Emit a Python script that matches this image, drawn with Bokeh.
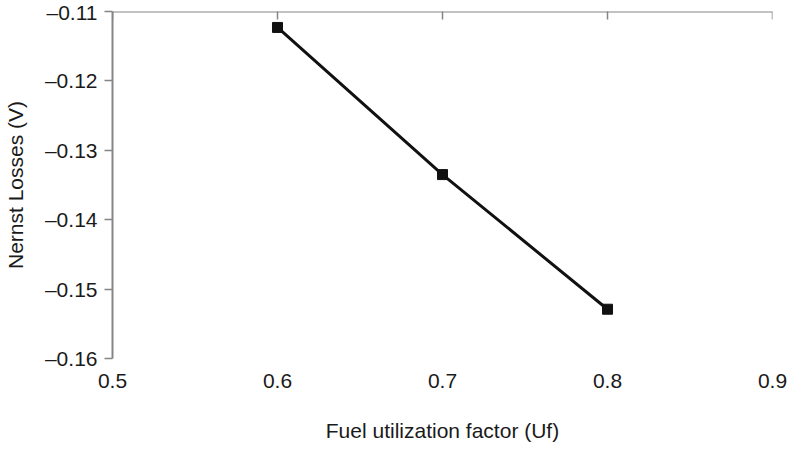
import math
from bokeh.plotting import figure
from bokeh.models import LinearAxis, FixedTicker, CustomJSTickFormatter, Range1d, Span
from bokeh.embed import file_html
from bokeh.resources import INLINE

# Data
uf = [0.6, 0.7, 0.8]
nernst_losses = [-0.1123, -0.1335, -0.1529]

x_ticks = [0.5, 0.6, 0.7, 0.8, 0.9]
y_ticks = [-0.16, -0.15, -0.14, -0.13, -0.12, -0.11]
x_title = "Fuel utilization factor (Uf)"
y_title = "Nernst Losses (V)"

X_MIN, X_MAX = 0.5, 0.9
Y_MIN, Y_MAX = -0.16, -0.11

FONT = "Liberation Sans"
FS = "21px"
TXT = "#1a1a1a"
AX = "#858585"

p = figure(width=787, height=449, output_backend="svg", toolbar_location=None,
           x_range=Range1d(X_MIN, X_MAX), y_range=Range1d(Y_MIN, Y_MAX),
           x_axis_location=None, y_axis_location=None,
           min_border_left=112, min_border_right=15, min_border_top=11, min_border_bottom=91)
p.grid.visible = False
p.outline_line_color = None
p.background_fill_color = "white"
p.border_fill_color = "white"

# Left axis
ya = LinearAxis(ticker=FixedTicker(ticks=y_ticks),
                formatter=CustomJSTickFormatter(code="return (tick < 0 ? '\\u2013' : '') + Math.abs(tick).toFixed(2);"))
ya.axis_label = y_title
ya.axis_label_text_font = FONT
ya.axis_label_text_font_size = FS
ya.axis_label_text_font_style = "normal"
ya.axis_label_text_color = TXT
ya.axis_label_standoff = 15
ya.major_label_text_font = FONT
ya.major_label_text_font_size = FS
ya.major_label_text_color = TXT
ya.major_label_standoff = 7
ya.axis_line_color = AX
ya.axis_line_width = 2
ya.major_tick_line_color = AX
ya.major_tick_line_width = 1.5
ya.major_tick_in = 0
ya.major_tick_out = 8
ya.minor_tick_line_color = None
p.add_layout(ya, "left")

# Bottom axis: labels only
ba = LinearAxis(ticker=FixedTicker(ticks=x_ticks),
                formatter=CustomJSTickFormatter(code="return tick.toFixed(1);"))
ba.axis_label = x_title
ba.axis_label_text_font = FONT
ba.axis_label_text_font_size = FS
ba.axis_label_text_font_style = "normal"
ba.axis_label_text_color = TXT
ba.axis_label_standoff = 28
ba.major_label_text_font = FONT
ba.major_label_text_font_size = FS
ba.major_label_text_color = TXT
ba.major_label_standoff = 15
ba.axis_line_color = None
ba.major_tick_line_color = None
ba.major_tick_in = 0
ba.major_tick_out = 0
ba.minor_tick_line_color = None
p.add_layout(ba, "below")

# Top axis line with inward ticks
p.add_layout(Span(location=Y_MAX, dimension="width", line_color=AX, line_width=2))
p.scatter(x_ticks, [Y_MAX] * len(x_ticks), marker="dash", angle=math.pi / 2, size=16,
          line_color=AX, line_width=1.5)

p.line(uf, nernst_losses, line_color="#111111", line_width=3)
p.scatter(uf, nernst_losses, marker="square", size=10, fill_color="#111111", line_color="#111111")

open("out.html", "w").write(file_html(p, INLINE))
